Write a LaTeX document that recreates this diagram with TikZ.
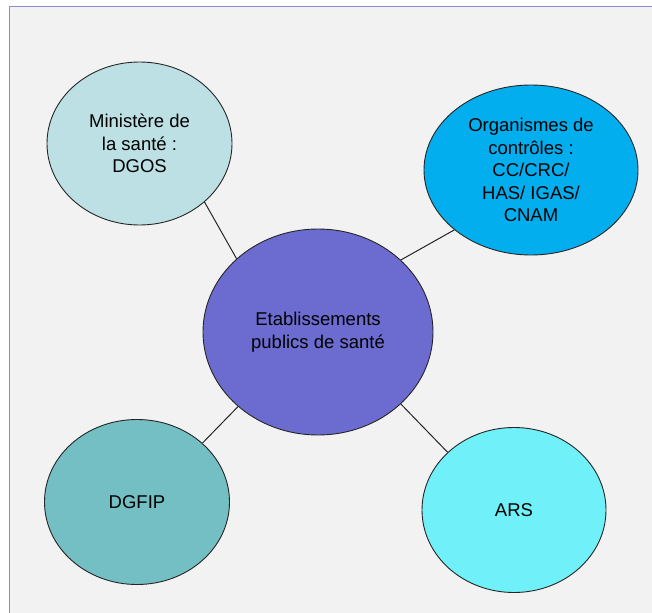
\documentclass[tikz,border=0pt]{standalone}
\usepackage{fontspec}
\setmainfont{Liberation Sans}
\usepackage{tikz}
\usetikzlibrary{shapes.geometric}
\definecolor{fondgris}{HTML}{F2F2F2}
\definecolor{cadre}{HTML}{8C8CD6}
\definecolor{ministere}{HTML}{BCE0E4}
\definecolor{controle}{HTML}{03AEEE}
\definecolor{etablis}{HTML}{6B6BD0}
\definecolor{dgfip}{HTML}{73BFC4}
\definecolor{ars}{HTML}{70F0F8}
\tikzset{
	bulle/.style={ellipse, draw=black!85, line width=0.9pt, inner sep=0pt, align=center, font=\fontsize{18.5}{22.5}\selectfont},
	lien/.style={draw=black!85, line width=1pt}
}

\begin{document}
\begin{tikzpicture}[x=1pt, y=-1pt]
	\clip (0,0) rectangle (652,612);
	%\draw[step=10, black!20] (0,0) grid (652,612);
	\draw[cadre, fill=fondgris, line width=1pt] (9,7) rectangle (680,640);
	\node[bulle, fill=etablis, minimum width=230, minimum height=206] (etab) at (318,332) {Etablissements\\publics de santé};
	\node[bulle, fill=ministere, minimum width=185, minimum height=163] (min) at (139.5,143.5) {Ministère de\\la santé :\\DGOS};
	\node[bulle, fill=controle, minimum width=214, minimum height=170] (ctrl) at (531,170) {Organismes de\\contrôles :\\CC/CRC/\\HAS/ IGAS/\\CNAM};
	\node[bulle, fill=dgfip, minimum width=185, minimum height=165] (dgfip) at (137,502) {DGFIP};
	\node[bulle, fill=ars, minimum width=184, minimum height=165] (ars) at (514,510) {ARS};
	\draw[lien] (min.-42) -- (etab.138);
	\draw[lien] (etab.41) -- (ctrl.-142);
	\draw[lien] (dgfip.42) -- (etab.223);
	\draw[lien] (etab.-41) -- (ars.139);
\end{tikzpicture}
\end{document}
